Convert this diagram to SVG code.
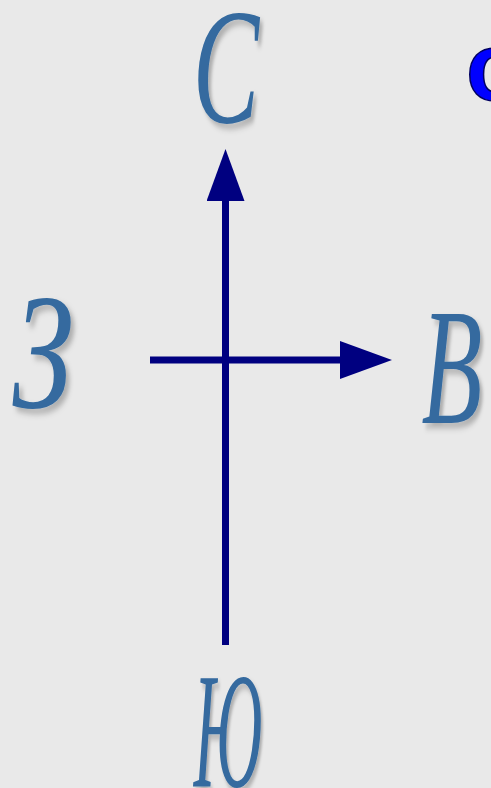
<svg xmlns="http://www.w3.org/2000/svg" width="491" height="788" viewBox="0 0 491 788">
<defs>
<style>
.lbl{font-family:"Liberation Serif",serif;font-style:italic;font-size:166px;fill:#356a9f;text-anchor:middle;filter:url(#sh)}
.ax{stroke:#000080;stroke-width:7;fill:none}
</style>
<filter id="sh" x="-30%" y="-30%" width="160%" height="160%">
<feDropShadow dx="5" dy="5" stdDeviation="3" flood-color="#000" flood-opacity="0.25"/>
</filter>
<marker id="ah" viewBox="0 0 52 38" refX="0" refY="19" markerWidth="52" markerHeight="38" markerUnits="userSpaceOnUse" orient="auto">
<path d="M0,0 L52,19 L0,38 Z" fill="#000080"/>
</marker>
</defs>
<rect width="491" height="788" fill="#e9e9e9"/>
<g id="connectors">
<line class="ax" x1="225.5" y1="645" x2="225.5" y2="201" marker-end="url(#ah)"/>
<line class="ax" x1="150" y1="360" x2="340" y2="360" marker-end="url(#ah)"/>
</g>
<g id="north"><text class="lbl" transform="translate(226,122) scale(0.6,1)">С</text></g>
<g id="west"><text class="lbl" transform="translate(43,407) scale(0.74,1)">З</text></g>
<g id="east"><text class="lbl" transform="translate(452,423) scale(0.6,1)">В</text></g>
<g id="south"><text class="lbl" transform="translate(228,786) scale(0.4,1)">Ю</text></g>
<g id="corner"><text x="466" y="100" style="font-family:'Liberation Sans',sans-serif;font-weight:bold;font-size:96px;fill:#0000ff;stroke:#000060;stroke-width:1.5">о</text></g>
</svg>
